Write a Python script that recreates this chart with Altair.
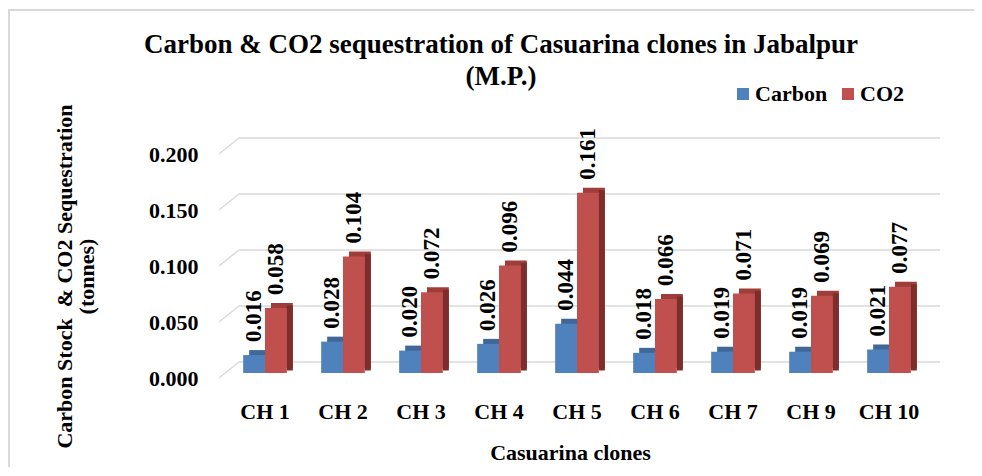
import altair as alt
import pandas as pd

clones = ["CH 1", "CH 2", "CH 3", "CH 4", "CH 5", "CH 6", "CH 7", "CH 9", "CH 10"]
carbon = [0.016, 0.028, 0.020, 0.026, 0.044, 0.018, 0.019, 0.019, 0.021]
co2 = [0.058, 0.104, 0.072, 0.096, 0.161, 0.066, 0.071, 0.069, 0.077]
series_names = ["Carbon", "CO2"]
tick_values = [0.0, 0.05, 0.10, 0.15, 0.20]

rows = []
for c, a, b in zip(clones, carbon, co2):
    rows.append({"clone": c, "series": "Carbon", "value": a})
    rows.append({"clone": c, "series": "CO2", "value": b})
df = pd.DataFrame(rows)
grid_df = pd.DataFrame({"value": tick_values})

FONT = "Liberation Serif"
front_colors = ["#4F81BD", "#C0504D"]
top_colors = ["#3F6899", "#9E3D3A"]
side_colors = ["#2F5078", "#7D2E2C"]

x_enc = alt.X(
    "clone:N", sort=clones,
    scale=alt.Scale(paddingInner=0.44, paddingOuter=0.22),
    axis=alt.Axis(
        title="Casuarina clones", labelAngle=0, ticks=False, tickSize=0, domain=False, grid=False,
        labelFont=FONT, labelFontSize=22, labelFontWeight="bold", labelColor="black",
        labelPadding=38, labelBaseline="middle",
        titleFont=FONT, titleFontSize=22, titleFontWeight="bold", titleColor="black",
        titleX=344, titleY=79, titleBaseline="middle", titleAlign="center",
    ),
)
xo_enc = alt.XOffset("series:N", sort=series_names,
                     scale=alt.Scale(paddingInner=0, paddingOuter=0))
y_axis = alt.Axis(
    values=tick_values, format=".3f", grid=False, ticks=False, tickSize=0, domain=False,
    labelFont=FONT, labelFontSize=22, labelFontWeight="bold", labelColor="black",
    labelPadding=28, labelOffset=5, labelBaseline="middle",
    title=["Carbon Stock \u00a0& CO2 Sequestration",
           "\u00a0" * 9 + "(tonnes)"],
    titleFont=FONT, titleFontSize=22, titleFontWeight="bold", titleColor="black",
    titleAngle=-90, titleX=-162, titleY=127, titleAlign="center", titleBaseline="middle",
    titleLineHeight=22,
)
y_scale = alt.Scale(domain=[0, 0.2], nice=False, zero=True)
y_enc = alt.Y("value:Q", scale=y_scale, axis=y_axis)

frame_src = alt.Data(values=[{"a": 1}])
border_top = alt.Chart(frame_src).mark_rule(color="#D9D9D9", strokeWidth=2).encode(
    x=alt.value(-217), x2=alt.value(748), y=alt.value(-139), y2=alt.value(-139))
border_left = alt.Chart(frame_src).mark_rect(color="#D9D9D9").encode(
    x=alt.value(-218), x2=alt.value(-216), y=alt.value(-140), y2=alt.value(318))

grid_diag = alt.Chart(grid_df).mark_rule(
    color="#D9D9D9", strokeWidth=1.5, yOffset=5, y2Offset=-11
).encode(x=alt.value(-7), x2=alt.value(13), y=y_enc, y2=alt.Y2("value:Q"))

grid_line = alt.Chart(grid_df).mark_rule(
    color="#D9D9D9", strokeWidth=1.5, yOffset=-11
).encode(x=alt.value(13), x2=alt.value(714), y=y_enc)

quarter = 10.92  # quarter of the band width
depth_layers = []
for name, tcol, scol, off in zip(series_names, top_colors, side_colors, [-quarter, quarter]):
    sub = alt.Chart(df).transform_filter(alt.datum.series == name)
    depth_layers.append(
        sub.mark_bar(width={"band": 0.5}, xOffset=off + 6, yOffset=-5, color=tcol)
        .encode(x=x_enc, y=y_enc)
    )
    depth_layers.append(
        sub.mark_bar(width=6, xOffset=off + quarter + 3, yOffset=-2.5, color=scol)
        .encode(x=x_enc, y=y_enc)
    )

bars = alt.Chart(df).mark_bar().encode(
    x=x_enc, xOffset=xo_enc, y=y_enc,
    color=alt.Color(
        "series:N", scale=alt.Scale(domain=series_names, range=front_colors),
        legend=alt.Legend(
            title=None, orient="none", direction="horizontal", legendX=506, legendY=-66,
            symbolType="square", symbolSize=144, symbolStrokeWidth=0,
            labelFont=FONT, labelFontSize=22, labelFontWeight="bold", labelColor="black",
            labelOffset=1, columnPadding=9, padding=0,
        ),
    ),
)

labels = alt.Chart(df).mark_text(
    angle=270, align="left", baseline="middle", dx=13,
    font=FONT, fontSize=23, fontWeight="bold", color="black",
).encode(x=x_enc, xOffset=xo_enc, y=y_enc, text=alt.Text("value:Q", format=".3f"))

chart = alt.layer(border_top, border_left, grid_diag, grid_line, *depth_layers, bars, labels).properties(
    width=702, height=224,
    padding={"left": 218, "top": 141, "right": 46, "bottom": 95},
    autosize=alt.AutoSizeParams(type="none"),
    background="white",
    title=alt.TitleParams(
        text=["Carbon & CO2 sequestration of Casuarina clones in Jabalpur", "(M.P.)"],
        font=FONT, fontSize=27, fontWeight="bold", color="black",
        anchor="middle", dx=-76, lineHeight=32, offset=-82,
    ),
).configure_view(stroke=None)

chart.save("out.html", embed_options={"renderer": "svg", "actions": False})
